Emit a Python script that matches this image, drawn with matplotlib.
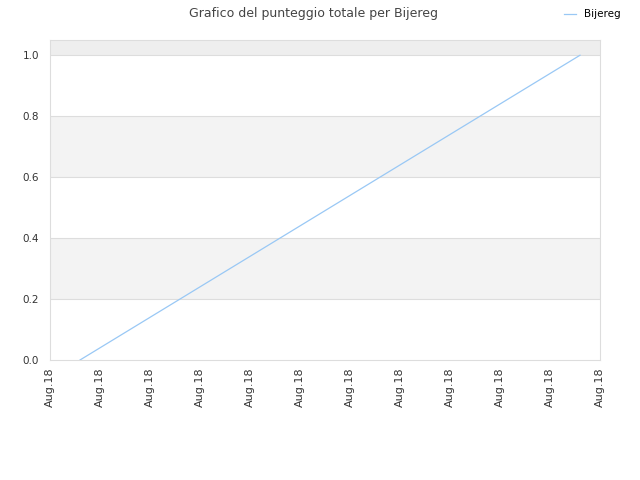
import matplotlib
matplotlib.use("Agg")
import matplotlib.pyplot as plt

# === Data ===
tick_pos = list(range(12))
tick_labels = ["Aug.18"] * 12
x_vals = [0.6, 10.6]
scores = [0.0, 1.0]
y_ticks = [0.0, 0.2, 0.4, 0.6, 0.8, 1.0]

fig = plt.figure(figsize=(6.4, 4.8), dpi=100)
ax = fig.add_axes([50 / 640, 1 - 360 / 480, 550 / 640, 320 / 480])

# alternating bands
for lo, hi in [(0.2, 0.4), (0.6, 0.8)]:
    ax.axhspan(lo, hi, color="#f3f3f3", zorder=0, lw=0)
ax.axhspan(1.0, 1.05, color="#eeeeee", zorder=0, lw=0)
for yt in y_ticks[1:]:
    ax.axhline(yt, color="#dddddd", lw=0.8, zorder=1)

ax.plot(x_vals, scores, color="#99c8f5", lw=0.9, label="Bijereg", zorder=2)

ax.set_xlim(0, 11)
ax.set_ylim(0, 1.05)
ax.set_xticks(tick_pos)
ax.set_xticklabels(tick_labels, rotation=90, fontsize=8, color="#333333")
ax.set_yticks(y_ticks)
ax.set_yticklabels([f"{v:.1f}" for v in y_ticks], fontsize=7.5, color="#333333")
ax.tick_params(axis="x", length=0, pad=5)
ax.tick_params(axis="y", length=0, pad=8)
for s in ax.spines.values():
    s.set_color("#dddddd")

fig.suptitle("Grafico del punteggio totale per Bijereg", x=0.49, y=0.985,
             fontsize=9, color="#444444")
fig.legend(loc="upper right", bbox_to_anchor=(0.985, 1.0), frameon=False,
           fontsize=7.5, handlelength=1.2)

fig.savefig("out.png", dpi=100)
